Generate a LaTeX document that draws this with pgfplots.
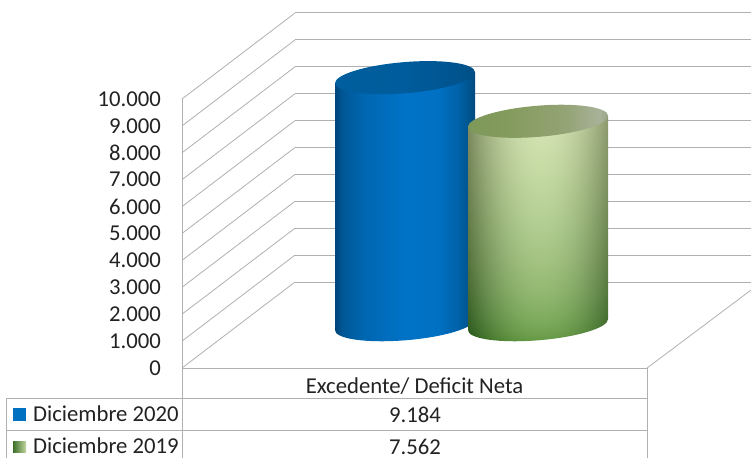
\documentclass[border=0pt]{standalone}
\usepackage{pgfplots}
\pgfplotsset{compat=1.18}
\usepackage{fontspec}
\setmainfont{Carlito}
\definecolor{gridc}{HTML}{B0B0B0}
\definecolor{txt}{HTML}{222222}
\pgfdeclarehorizontalshading{bluebody}{100bp}{rgb(0bp)=(0,.27,.48);
 rgb(25bp)=(0,.27,.48); rgb(27.5bp)=(0,.34,.58); rgb(35bp)=(0,.40,.69); rgb(50bp)=(0,.45,.78); rgb(62bp)=(0,.44,.76); rgb(69bp)=(0,.38,.66); rgb(72bp)=(0,.34,.58); rgb(75bp)=(0,.29,.50); rgb(100bp)=(0,.29,.50)}
\pgfdeclarehorizontalshading{bluetop}{100bp}{rgb(0bp)=(0,.37,.62); rgb(25bp)=(0,.37,.62); rgb(50bp)=(0,.36,.61); rgb(68bp)=(0,.33,.56); rgb(75bp)=(0,.31,.52); rgb(100bp)=(0,.31,.52)}
\pgfdeclarehorizontalshading{greentop}{100bp}{rgb(0bp)=(.49,.60,.35); rgb(25bp)=(.49,.60,.35); rgb(40bp)=(.52,.61,.37); rgb(60bp)=(.58,.64,.46); rgb(72bp)=(.66,.70,.60); rgb(75bp)=(.60,.64,.54); rgb(100bp)=(.60,.64,.54)}
% colour = A + B s + v (C + D s); s = across the cylinder, v = upwards
\pgfdeclarefunctionalshading{greenbody}{\pgfpointorigin}{\pgfpoint{100bp}{100bp}}{}{
 25 sub 50 div abs sqrt exch 25 sub 50 div
 .52 sub dup mul 3.7 mul 1 exch sub
 exch
 1 index .09 mul .42 add 1 index mul 2 index .25 mul add .08 add
 2 index .09 mul .25 add 2 index mul 3 index .26 mul add .30 add
 3 index .17 mul .34 add 3 index mul 4 index .16 mul add .04 add
 5 3 roll pop pop
}
\newcommand\cylpath{(-70pt,37.8pt) -- (-70pt,37.8pt-\h pt) .. controls (-70pt,29.18pt-\h pt) and (-38.66pt,24.66pt-\h pt) .. (0pt,27.7pt-\h pt) .. controls (38.66pt,30.74pt-\h pt) and (70pt,40.18pt-\h pt) .. (70pt,48.8pt-\h pt) -- (70pt,48.8pt) -- cycle}
\newcommand\toppath{(70pt,48.8pt) .. controls (70pt,57.42pt) and (38.66pt,61.94pt) .. (0pt,58.9pt) .. controls (-38.66pt,55.86pt) and (-70pt,46.42pt) .. (-70pt,37.8pt) .. controls (-70pt,29.18pt) and (-38.66pt,24.66pt) .. (0pt,27.7pt) .. controls (38.66pt,30.74pt) and (70pt,40.18pt) .. (70pt,48.8pt) -- cycle}
\pgfdeclareplotmark{cylblue}{%
 \pgfmathsetmacro\h{\cylval*0.0269}%
 \path[draw=none,fill=none,shading=bluebody] \cylpath;
 \path[draw=none,fill=none,shading=bluetop] \toppath;}
\pgfdeclareplotmark{cylgreen}{%
 \pgfmathsetmacro\h{\cylval*0.0269}%
 \path[draw=none,fill=none,shading=greenbody] \cylpath;
 \path[draw=none,fill=none,shading=greentop] \toppath;}
\newcommand\fs{\fontsize{22.7}{27}\selectfont\color{txt}}
\begin{document}
\begin{tikzpicture}
\path[use as bounding box] (0pt,0pt) rectangle (751pt,458pt);
\clip (0pt,0pt) rectangle (751pt,458pt);
% perspective walls: image px (x, 458-y)
\foreach \i in {0,...,10}{
  \pgfmathsetmacro\yy{90+\i*26.9}
  \draw[gridc,line width=.8pt] (182pt,\yy pt) -- (295pt,\yy pt+86pt);
  \draw[gridc,line width=1pt] (295pt,\yy pt+86pt) -- (751pt,\yy pt+86pt);
}
\draw[gridc,line width=.8pt] (647pt,90pt) -- (751pt,168pt);
% data table
\draw[gridc,line width=1pt] (6.5pt,0pt) -- (6.5pt,60pt) -- (647pt,60pt);
\draw[gridc,line width=1pt] (6.5pt,28pt) -- (647pt,28pt);
\draw[gridc,line width=1pt] (647pt,0pt) -- (647pt,90pt);
\draw[gridc,line width=1pt] (182pt,0pt) -- (182pt,90pt);
\fill[fill={rgb,255:red,0;green,112;blue,192}] (13pt,37.5pt) rectangle (26pt,50pt);
\shade[left color={rgb,255:red,60;green,110;blue,40},right color={rgb,255:red,195;green,215;blue,160}] (13pt,5.5pt) rectangle (26pt,17pt);
\node[anchor=west,inner sep=0pt,font=\fs] at (33pt,44pt) {Diciembre 2020};
\node[anchor=west,inner sep=0pt,font=\fs] at (33pt,12pt) {Diciembre 2019};
\node[inner sep=0pt,font=\fs] at (415pt,43.5pt) {9.184};
\node[inner sep=0pt,font=\fs] at (415pt,11.5pt) {7.562};
\begin{axis}[
  at={(182pt,90pt)},anchor=south west,
  scale only axis,width=465pt,height=269pt,
  xmin=182,xmax=647,ymin=0,ymax=10000,
  clip=false,
  scaled y ticks=false,
  axis y line=left,axis x line=bottom,
  axis line style={-,gridc,line width=1pt},
  major tick length=0pt,
  ytick={0,1000,...,10000},
  yticklabels={0,1.000,2.000,3.000,4.000,5.000,6.000,7.000,8.000,9.000,10.000},
  xtick={414.5},
  xticklabels={Excedente/ Deficit Neta},
  y tick label style={font=\fs,anchor=east,inner sep=0pt,xshift=-21pt},
  x tick label style={font=\fs,anchor=center,inner sep=0pt,yshift=-18pt},
  visualization depends on={rawy \as \cylval},
]
\addplot[only marks,scatter,mark=cylblue,scatter src=y] coordinates {(405,9184)};
\addplot[only marks,scatter,mark=cylgreen,scatter src=y] coordinates {(538,7562)};
\end{axis}
\end{tikzpicture}
\end{document}
